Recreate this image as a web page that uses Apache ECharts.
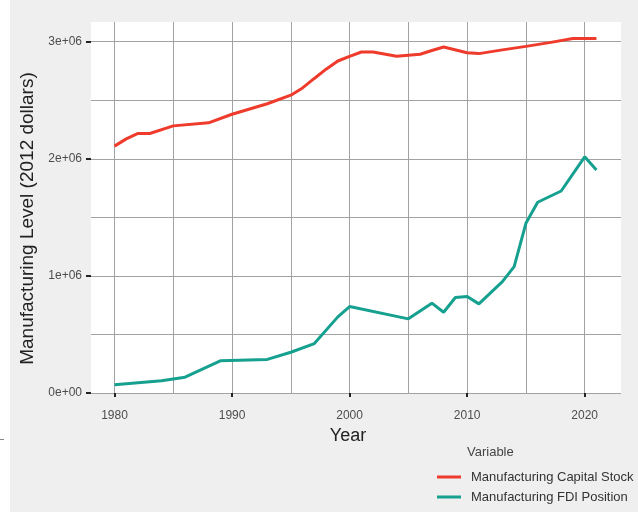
<!DOCTYPE html>
<html>
<head>
<meta charset="utf-8">
<script src="https://cdn.jsdelivr.net/npm/echarts@6/dist/echarts.min.js"></script>
<style>
  html, body { margin: 0; padding: 0; background: #fff; }
  #chart { width: 638px; height: 512px; }
</style>
</head>
<body>
<div id="chart"></div>
<script>
const capitalYears = [1980, 1981, 1982, 1983, 1985, 1988, 1990, 1993, 1995, 1996, 1997, 1998, 1999, 2000, 2001, 2002, 2004, 2006, 2007, 2008, 2010, 2011, 2013, 2015, 2017, 2019, 2021];
const capitalValues = [2108000, 2170000, 2216000, 2216000, 2281000, 2307000, 2380000, 2470000, 2543000, 2605000, 2686000, 2765000, 2835000, 2875000, 2912000, 2912000, 2875000, 2893000, 2925000, 2955000, 2905000, 2898000, 2930000, 2960000, 2992000, 3027000, 3027000];

const fdiYears = [1980, 1984, 1986, 1989, 1993, 1995, 1997, 1999, 2000, 2005, 2007, 2008, 2009, 2010, 2011, 2013, 2014, 2015, 2016, 2018, 2020, 2021];
const fdiValues = [71000, 104000, 135000, 275000, 287000, 348000, 422000, 650000, 738000, 633000, 767000, 690000, 815000, 824000, 761000, 951000, 1079000, 1449000, 1629000, 1725000, 2017000, 1904000];

const xGridValues = [1980, 1985, 1990, 1995, 2000, 2005, 2010, 2015, 2020];
const xTickValues = [1980, 1990, 2000, 2010, 2020];
const yGridValues = [0, 500000, 1000000, 1500000, 2000000, 2500000, 3000000];
const yTickValues = [0, 1000000, 2000000, 3000000];
const yTickLabels = ['0e+00', '1e+06', '2e+06', '3e+06'];

const seriesNames = ['Manufacturing Capital Stock', 'Manufacturing FDI Position'];

const chart = echarts.init(document.getElementById('chart'));

const font = 'Liberation Sans, Arial, sans-serif';
const gridColor = '#a2a2a2';

const option = {
  animation: false,
  backgroundColor: '#efefef',
  textStyle: { fontFamily: font },
  graphic: [
    { type: 'rect', left: 0, top: 0, shape: { width: 10, height: 512 }, style: { fill: '#ffffff' }, silent: true },
    { type: 'rect', left: 0, top: 439, shape: { width: 4, height: 1 }, style: { fill: '#888' }, silent: true },
    {
      type: 'text', left: 467, top: 446,
      style: { text: 'Variable', fill: '#444', font: '13px ' + font }
    }
  ],
  grid: {
    left: 91, right: 17, top: 22, bottom: 119,
    outerBoundsMode: 'none', containLabel: false,
    show: true, backgroundColor: '#ffffff', borderWidth: 0
  },
  legend: {
    data: seriesNames,
    orient: 'vertical',
    left: 432, top: 465,
    icon: 'rect',
    itemWidth: 24, itemHeight: 3,
    itemGap: 6,
    textStyle: { fontSize: 13, color: '#333', lineHeight: 14, padding: [0, 0, 0, 5] }
  },
  xAxis: [
    {
      type: 'value', min: 1978, max: 2023.09, position: 'bottom',
      axisLine: { show: false },
      axisTick: { show: false, customValues: xGridValues },
      axisLabel: { show: false, customValues: xGridValues },
      splitLine: { show: true, lineStyle: { color: gridColor, width: 1 } }
    },
    {
      type: 'value', min: 1978, max: 2023.09, position: 'bottom', offset: 9,
      axisLine: { show: false },
      axisTick: { show: true, length: 4, customValues: xTickValues, lineStyle: { color: '#222', width: 2 } },
      axisLabel: {
        customValues: xTickValues, margin: 8, fontSize: 12, color: '#4d4d4d',
        formatter: v => String(v)
      },
      splitLine: { show: false },
      name: 'Year', nameLocation: 'middle', nameGap: 21,
      nameTextStyle: { fontSize: 18, color: '#222', padding: [0, 16, 0, 0] }
    }
  ],
  yAxis: [
    {
      type: 'value', min: 0, max: 3168000, position: 'left',
      axisLine: { show: false },
      axisTick: { show: false, customValues: yGridValues },
      axisLabel: { show: false, customValues: yGridValues },
      splitLine: { show: true, lineStyle: { color: gridColor, width: 1 } }
    },
    {
      type: 'value', min: 0, max: 3168000, position: 'left', offset: 0,
      axisLine: { show: false },
      axisTick: { show: true, length: 5, customValues: yTickValues, lineStyle: { color: '#222', width: 2 } },
      axisLabel: {
        customValues: yTickValues, margin: 9, fontSize: 12, color: '#4d4d4d',
        formatter: v => yTickLabels[yTickValues.indexOf(v)] || ''
      },
      splitLine: { show: false },
      name: 'Manufacturing Level (2012 dollars)', nameLocation: 'middle', nameGap: 49,
      nameTextStyle: { fontSize: 19, color: '#222', padding: [0, 22, 0, 0] }
    }
  ],
  series: [
    {
      name: seriesNames[0], type: 'line', xAxisIndex: 0, yAxisIndex: 0,
      showSymbol: false, symbol: 'none',
      lineStyle: { color: '#ef3b2c', width: 3 }, itemStyle: { color: '#ef3b2c' },
      data: capitalYears.map((y, i) => [y, capitalValues[i]])
    },
    {
      name: seriesNames[1], type: 'line', xAxisIndex: 0, yAxisIndex: 0,
      showSymbol: false, symbol: 'none',
      lineStyle: { color: '#16a08f', width: 3 }, itemStyle: { color: '#16a08f' },
      data: fdiYears.map((y, i) => [y, fdiValues[i]])
    }
  ]
};

chart.setOption(option);
</script>
</body>
</html>
